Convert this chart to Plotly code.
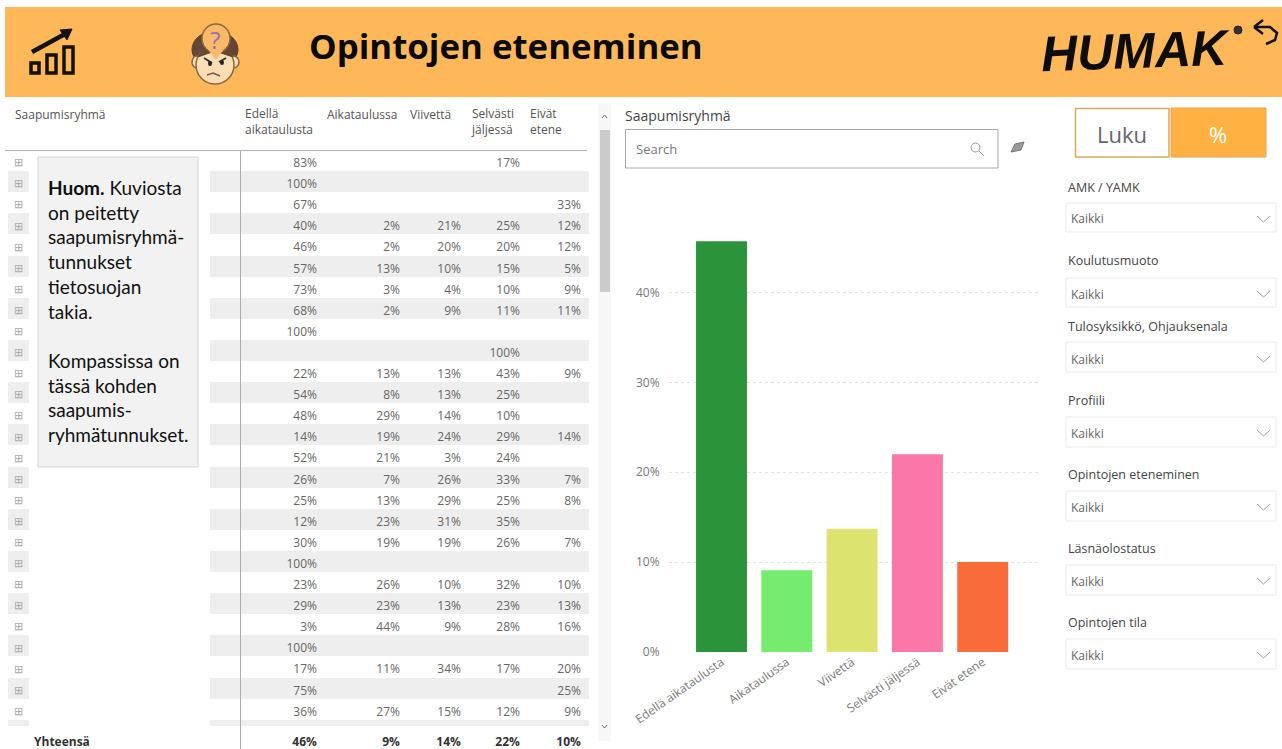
import plotly.graph_objects as go

W, H = 1282, 749
TITLE = "Opintojen eteneminen"
categories = ["Edellä aikataulusta", "Aikataulussa", "Viivettä", "Selvästi jäljessä", "Eivät etene"]
bar_values = [45.7, 9.1, 13.7, 22.0, 10.0]
bar_colors = ["#2B9339", "#75EC6E", "#DCE46F", "#F978A9", "#F96B38"]
y_ticks = [0, 10, 20, 30, 40]

col_edella = [83,100,67,40,46,57,73,68,100,None,22,54,48,14,52,26,25,12,30,100,23,29,3,100,17,75,36,None]
col_aika = [None,None,None,2,2,13,3,2,None,None,13,8,29,19,21,7,13,23,19,None,26,23,44,None,11,None,27,None]
col_viive = [None,None,None,21,20,10,4,9,None,None,13,13,14,24,3,26,29,31,19,None,10,13,9,None,34,None,15,None]
col_selv = [17,None,None,25,20,15,10,11,None,100,43,25,10,29,24,33,25,35,26,None,32,23,28,None,17,None,12,None]
col_eivat = [None,None,33,12,12,5,9,11,None,None,9,None,None,14,None,7,8,None,7,None,10,13,16,None,20,25,9,None]
totals = [46, 9, 14, 22, 10]
table_headers = ["Edellä<br>aikataulusta", "Aikataulussa", "Viivettä", "Selvästi<br>jäljessä", "Eivät<br>etene"]
slicers = ["AMK / YAMK", "Koulutusmuoto", "Tulosyksikkö, Ohjauksenala", "Profiili",
           "Opintojen eteneminen", "Läsnäolostatus", "Opintojen tila"]
note = ("<b>Huom.</b> Kuviosta<br>on peitetty<br>saapumisryhmä-<br>tunnukset<br>tietosuojan<br>takia.<br><br>"
        "Kompassissa on<br>tässä kohden<br>saapumis-<br>ryhmätunnukset.")

FONT = "Open Sans, sans-serif"
ORANGE = "#FFB859"
px = lambda v: v / W
py = lambda v: 1 - v / H


def fmt(values):
    return ["" if v is None else f"{v}%" for v in values]


shapes, ann = [], []


def rect(x0, y0, x1, y1, fill="rgba(0,0,0,0)", line=None, lw=1):
    shapes.append(dict(type="rect", xref="paper", yref="paper", x0=px(x0), x1=px(x1), y0=py(y0), y1=py(y1),
                       fillcolor=fill, line=dict(color=line or "rgba(0,0,0,0)", width=lw if line else 0)))


def oval(x0, y0, x1, y1, fill="rgba(0,0,0,0)", line=None, lw=1):
    shapes.append(dict(type="circle", xref="paper", yref="paper", x0=px(x0), x1=px(x1), y0=py(y0), y1=py(y1),
                       fillcolor=fill, line=dict(color=line or "rgba(0,0,0,0)", width=lw if line else 0)))


def poly(points, color="#000", lw=2, fill=None, close=False):
    d = "M" + " L".join(f"{px(a):.5f},{py(b):.5f}" for a, b in points) + (" Z" if close else "")
    shapes.append(dict(type="path", xref="paper", yref="paper", path=d, fillcolor=fill or "rgba(0,0,0,0)",
                       line=dict(color=color, width=lw)))


def text(x, y, s, size=12, color="#555", xa="left", family=FONT, **kw):
    ann.append(dict(xref="paper", yref="paper", x=px(x), y=py(y), text=s, showarrow=False, xanchor=xa,
                    yanchor="middle", borderpad=0, borderwidth=0,
                    font=dict(size=size, color=color, family=family),
                    align=xa if xa != "center" else "center", **kw))


# header band
rect(5, 7, W, 97, fill=ORANGE)
text(309, 46, f"<b>{TITLE}</b>", size=34.8, color="#0a0a0a")
# rising chart icon
for x0, x1, y0 in [(31, 39, 63), (47, 56, 55), (64, 73, 47)]:
    rect(x0, y0, x1, 73, line="#111", lw=3.5)
poly([(32, 52), (65, 34)], "#111", 4.5)
poly([(60, 30), (72, 29), (67, 40)], "#111", 1, fill="#111", close=True)
# puzzled face icon
oval(192, 31, 238, 68, fill="#654534", line="#5A3E30")
oval(192, 56, 202, 68, fill="#FBDDB5", line="#8A6A40", lw=1.5)
oval(228, 56, 239, 68, fill="#FBDDB5", line="#8A6A40", lw=1.5)
oval(196, 46, 234, 84, fill="#FBDDB5", line="#8A6A40", lw=1.5)
poly([(198, 57), (204, 48), (226, 48), (233, 57), (218, 52), (212, 52)], "#654534", 1, fill="#654534", close=True)
oval(202, 24, 230, 53, fill="#F9B968", line="#8A6A40", lw=1.5)
poly([(209, 50), (216, 59), (223, 50)], "#F9B968", 1, fill="#F9B968", close=True)
text(215, 40, "?", size=24, color="#8F74B8", xa="center")
poly([(204, 58), (212, 63)], "#333", 2)
poly([(226, 58), (219, 62)], "#333", 2)
oval(208, 61, 212, 66, fill="#222")
oval(220, 60, 224, 65, fill="#222")
poly([(207, 75), (213, 73), (220, 76)], "#7a5a40", 1.5)
# logo and back arrow
text(1040, 51, "<b><i>HUMAK</i></b>", size=50, color="#0d0d0d",
     family="Liberation Sans, sans-serif", textangle=-2)
oval(1234, 26, 1242, 34, fill="#333", line="#222", lw=1)
poly([(1254, 27), (1263, 20)], "#111", 2.5)
poly([(1254, 27), (1263, 34)], "#111", 2.5)
poly([(1254, 27), (1270, 27), (1277, 33), (1275, 40), (1266, 44)], "#111", 2.5)

# table decorations
rect(38, 157, 198, 467, fill="#F2F2F2", line="#D4D4D4")
shapes.append(dict(type="line", xref="paper", yref="paper", x0=px(5), x1=px(587), y0=py(150.5), y1=py(150.5),
                   line=dict(color="#B5B5B5", width=1)))
text(15, 114, "Saapumisryhmä", size=12, color="#555")
for x, s, y in zip([245, 327, 410, 471, 530], table_headers, [122, 114, 114, 122, 122]):
    text(x, y, s, size=12, color="#555")
text(48, 311, note, size=19, color="#111", family="Lato, sans-serif")
ann.append(dict(xref="paper", yref="paper", x=px(240), y=py(450), text=" ", showarrow=False, width=1, height=599,
                bgcolor="#ACACAC", xanchor="center", yanchor="middle", borderpad=0, borderwidth=0, font=dict(size=1)))

# scroll bar
rect(598, 104, 611, 741, fill="#F7F7F7")
rect(600, 130, 610, 292, fill="#CBCBCB")
poly([(602, 118), (604.5, 115), (607, 118)], "#666", 1)
poly([(602, 725), (604.5, 728), (607, 725)], "#666", 1)

# search slicer
text(625, 115, "Saapumisryhmä", size=14, color="#444")
rect(625.5, 129.5, 998, 168, line="#A8A8A8", lw=1)
text(636, 149, "Search", size=13, color="#777")
oval(971, 143, 980, 152, line="#999")
poly([(979, 151), (984, 156)], "#999", 1)
poly([(1011, 152), (1015, 144), (1024, 142), (1021, 150)], "#777", 1, fill="#999", close=True)

# toggle buttons
rect(1075.5, 108.5, 1169, 157, fill="#fff", line="#D9A85C", lw=1.5)
rect(1171, 108, 1266, 157, fill="#FFB142", line="#E0A650", lw=1)
text(1122, 134, "Luku", size=22, color="#666", xa="center")
text(1218, 134, "%", size=22, color="#fff", xa="center")

# dropdown slicers
for name, ly, y0, y1, ky in zip(slicers, [187, 261, 326, 400, 474, 548, 622],
                                [203, 278, 342, 417, 491, 565, 639],
                                [232, 307, 372, 447, 521, 595, 669],
                                [219, 294, 359, 433, 507, 581, 655]):
    text(1068, ly, name, size=12.5, color="#444")
    rect(1066, y0, 1276, y1, line="#EBEBEB")
    text(1071, ky, "Kaikki", size=12, color="#666")
    poly([(1257, ky - 3), (1263.5, ky + 3), (1270, ky - 3)], "#999", 1)

n = len(col_edella)
stripe = ["rgba(0,0,0,0)" if i % 2 == 0 else "#EEEEEE" for i in range(n)]
clear = ["rgba(0,0,0,0)"] * n
widths = [21, 181, 115, 83, 61, 59, 61]
plus = ["⊞"] * (n - 1) + [""]

table = go.Table(
    domain=dict(x=[px(8), px(589)], y=[py(726), py(149)]),
    columnwidth=widths,
    header=dict(values=[""] * 7, height=1, fill=dict(color="rgba(0,0,0,0)"), line=dict(width=0),
                font=dict(size=1)),
    cells=dict(
        values=[plus, [""] * n, fmt(col_edella), fmt(col_aika), fmt(col_viive), fmt(col_selv), fmt(col_eivat)],
        height=21.1,
        align=["center", "left", "right", "right", "right", "right", "right"],
        fill=dict(color=[stripe, clear, stripe, stripe, stripe, stripe, stripe]),
        line=dict(width=0),
        font=dict(size=[11, 12, 12, 12, 12, 12, 12], color=["#aaa"] + ["#666"] * 6, family=FONT),
    ),
)
total_table = go.Table(
    domain=dict(x=[px(8), px(589)], y=[py(749), py(724)]),
    columnwidth=[18, 184] + widths[2:],
    header=dict(values=[""] * 7, height=1, fill=dict(color="rgba(0,0,0,0)"), line=dict(width=0), font=dict(size=1)),
    cells=dict(
        values=[[""], ["<b>Yhteensä</b>"]] + [[f"<b>{t}%</b>"] for t in totals],
        height=24,
        align=["center", "left", "right", "right", "right", "right", "right"],
        fill=dict(color="rgba(0,0,0,0)"),
        line=dict(width=0),
        font=dict(size=12, color="#333", family=FONT),
    ),
)

bars = go.Bar(x=categories, y=bar_values, marker=dict(color=bar_colors, line=dict(width=0)), width=0.78,
              showlegend=False, hoverinfo="x+y")

fig = go.Figure([bars, table, total_table])
fig.update_layout(
    width=W, height=H, margin=dict(l=0, r=0, t=0, b=0, autoexpand=False), autosize=False,
    paper_bgcolor="#fff", plot_bgcolor="#fff", showlegend=False,
    shapes=shapes, annotations=ann, font=dict(family=FONT),
    xaxis=dict(domain=[px(669), px(1040)], range=[-0.804, 4.877], type="category", showgrid=False, zeroline=False,
               showline=False, tickangle=-35, ticks="", tickfont=dict(size=12, color="#777", family=FONT),
               anchor="y", categoryorder="array", categoryarray=categories, automargin=False),
    yaxis=dict(domain=[py(652), py(200)], range=[0, 50.28], tickvals=y_ticks, ticktext=[f"{v}%" for v in y_ticks],
               showgrid=True, gridcolor="#E2E2E2", griddash="dot", gridwidth=1, zeroline=False, showline=False,
               ticks="outside", ticklen=6, tickcolor="rgba(0,0,0,0)", tickfont=dict(size=12, color="#777", family=FONT),
               anchor="x", automargin=False),
)
fig.write_html("out.html", config=dict(displayModeBar=False),
               post_script="document.body.style.margin='0';document.documentElement.style.overflow='hidden';")
